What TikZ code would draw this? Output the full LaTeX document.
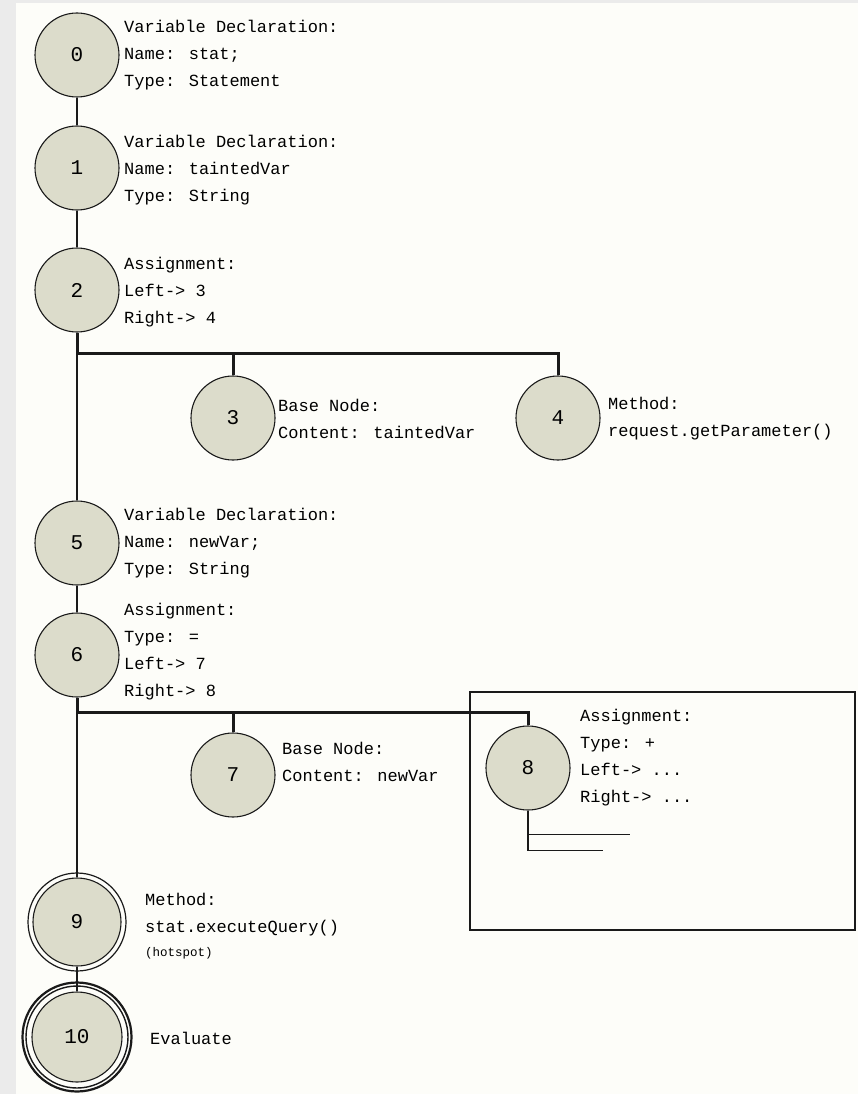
\documentclass[tikz,border=0pt]{standalone}
\usepackage{fontspec}
\setmainfont{Liberation Mono}
\definecolor{greybg}{HTML}{EBEBEB}
\definecolor{whitebg}{HTML}{FDFDF9}
\definecolor{nodefill}{HTML}{DCDCCB}
\definecolor{linec}{HTML}{1A1A1A}
\begin{document}
\begin{tikzpicture}[x=1pt,y=-1pt,
  circ/.style={circle, draw=linec, line width=1.1pt, fill=nodefill, minimum size=84pt, inner sep=0pt, font=\fontsize{21}{24}\selectfont},
  lbl/.style={anchor=west, align=left, inner sep=0pt, font=\fontsize{17}{27}\selectfont},
  conn/.style={draw=linec, line width=1.2pt},
  bus/.style={draw=linec, line width=3pt, line join=miter},
  ring/.style={draw=linec, line width=1.2pt},
  boxl/.style={draw=linec, line width=1.5pt}
]
\fill[greybg] (0,0) rectangle (858,1094);
\fill[whitebg] (16,3) rectangle (858,1094);
\useasboundingbox (0,0) rectangle (858,1094);

% box around node 8
\draw[boxl] (470,692) rectangle (855,930);

% nodes
\node[circ] (n0) at (77,55) {0};
\node[circ] (n1) at (77,168) {1};
\node[circ] (n2) at (77,290) {2};
\node[circ] (n3) at (233,418) {3};
\node[circ] (n4) at (558,418) {4};
\node[circ] (n5) at (77,543) {5};
\node[circ] (n6) at (77,655) {6};
\node[circ] (n7) at (233,775) {7};
\node[circ] (n8) at (528,768) {8};
\node[circ, minimum size=88pt] (n9) at (77,922) {9};
\node[circ, minimum size=90pt] (n10) at (77,1037) {10};
\draw[ring] (n9.center) circle[radius=49pt];
\draw[ring, line width=1.4pt] (n10.center) circle[radius=51pt];
\draw[ring, line width=2.2pt] (n10.center) circle[radius=54.5pt];

% labels
\node[lbl] (t0) at (124,55) {Variable Declaration:\\Name: stat;\\Type: Statement};
\node[lbl] (t1) at (124,170) {Variable Declaration:\\Name: taintedVar\\Type: String};
\node[lbl] (t2) at (124,292) {Assignment:\\Left-> 3\\Right-> 4};
\node[lbl] (t3) at (278,419) {Base Node:\\Content: taintedVar};
\node[lbl] (t4) at (608,419) {Method:\\request.getParameter()};
\node[lbl] (t5) at (124,543) {Variable Declaration:\\Name: newVar;\\Type: String};
\node[lbl] (t6) at (124,652) {Assignment:\\Type: =\\Left-> 7\\Right-> 8};
\node[lbl] (t7) at (282,762) {Base Node:\\Content: newVar};
\node[lbl] (t8) at (580,758) {Assignment:\\Type: +\\Left-> ...\\Right-> ...};
\node[lbl, anchor=north west] (t9) at (145,893) {Method:\\stat.executeQuery()};
\node[lbl, anchor=north west, font=\fontsize{12.5}{14}\selectfont] (t9b) at (145,947) {(hotspot)};
\node[lbl] (t10) at (150,1038) {Evaluate};

% connectors
\draw[conn] (n0) -- (n1);
\draw[conn] (n1) -- (n2);
\coordinate (b1) at (77,353);
\draw[bus] (n2.south) -- (b1) -| (n4.north);
\draw[bus] (b1 -| n3) -- (n3.north);
\draw[conn] (b1) -- (n5);
\draw[conn] (n5) -- (n6);
\coordinate (b2) at (77,712);
\draw[bus] (n6.south) -- (b2) -| (n8.north);
\draw[bus] (b2 -| n7) -- (n7.north);
\draw[conn] (b2) -- (n9);
\draw[conn] (n9) -- (n10);

% stubs below node 8
\path (n8.south) ++(0,24) coordinate (s8a);
\draw[conn] (n8.south) -- ++(0,40) coordinate (s8b) -- ++(75,0) coordinate (e8b);
\draw[conn] (s8a) -- ++(102,0) coordinate (e8a);
\end{tikzpicture}
\end{document}
